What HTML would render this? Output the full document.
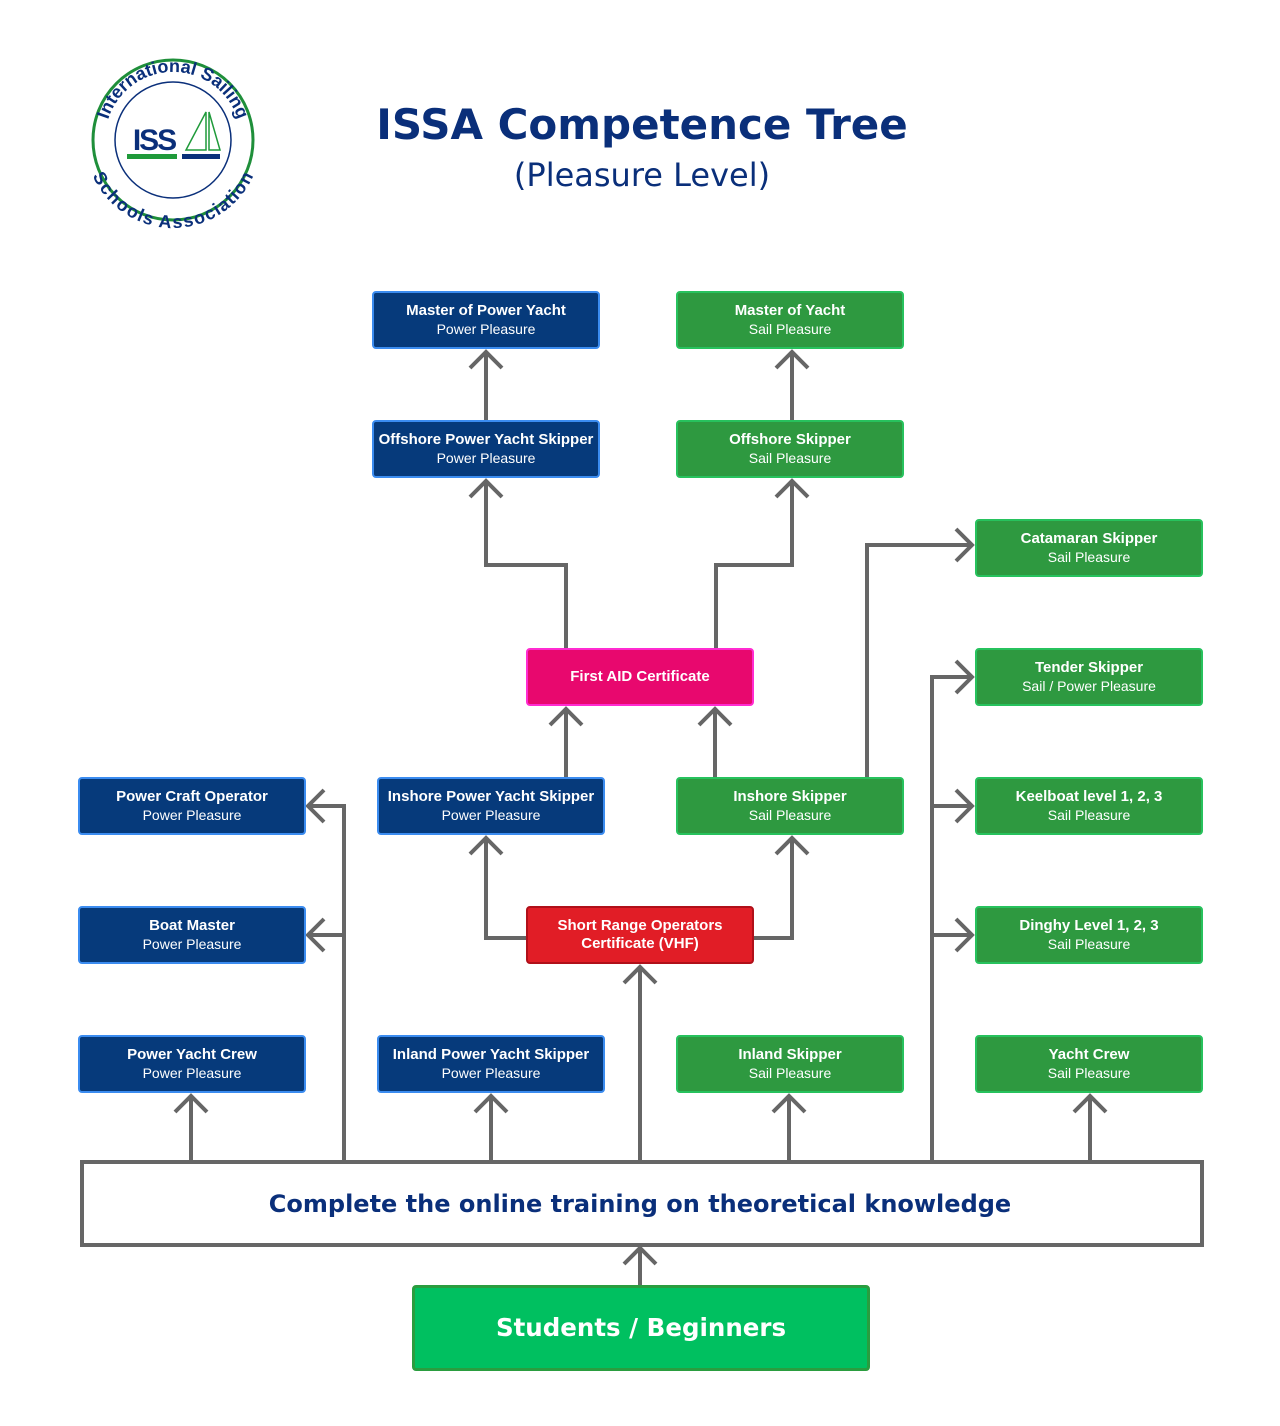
<!DOCTYPE html>
<html><head><meta charset="utf-8"><style>
body{margin:0;background:#fff;font-family:"Liberation Sans","DejaVu Sans",sans-serif}
#c{position:relative;width:1280px;height:1426px;overflow:hidden}
.b{position:absolute;box-sizing:border-box;width:228px;height:58px;border-radius:4px;color:#fff;text-align:center;display:flex;flex-direction:column;justify-content:center;line-height:18px}
.b b{font-size:15px}.b span{font-size:14px}
.bl{background:#063a7b;border:2px solid #3b8cf0}
.gr{background:#2e9940;border:2px solid #27c25d}
</style></head><body><div id="c">
<svg width="1280" height="1426" style="position:absolute;left:0;top:0">
<defs><path id="tp" d="M173,140 m-68,0 a68,68 0 1,1 136,0"/><path id="bp" d="M173,140 m-76,0 a76,76 0 0,0 152,0"/></defs>
<circle cx="173" cy="140" r="80" fill="#fff" stroke="#1f8f3a" stroke-width="3"/>
<circle cx="173" cy="140" r="58" fill="none" stroke="#0a2f7a" stroke-width="1.5"/>
<text font-size="18" font-weight="bold" fill="#0a2f7a" font-family="Liberation Sans"><textPath href="#tp" startOffset="50%" text-anchor="middle">International Sailing</textPath></text>
<text font-size="18" font-weight="bold" fill="#0a2f7a" font-family="Liberation Sans" dy="12"><textPath href="#bp" startOffset="50%" text-anchor="middle">Schools Association</textPath></text>
<text x="154" y="150" font-size="30" font-weight="bold" fill="#0a2f7a" text-anchor="middle" font-family="Liberation Sans" letter-spacing="-2">ISS</text>
<rect x="127" y="154" width="50" height="5" fill="#1f9a3a"/><rect x="182" y="154" width="38" height="5" fill="#0a2f7a"/>
<path d="M206,112 L186,150 L206,150 Z M209,112 L220,150 L209,150Z" fill="none" stroke="#1f9a3a" stroke-width="1.5"/>
<text x="642" y="139" font-size="42" font-weight="bold" fill="#0a2f7a" text-anchor="middle" font-family="DejaVu Sans">ISSA Competence Tree</text>
<text x="642" y="186" font-size="32" fill="#0a2f7a" text-anchor="middle" font-family="DejaVu Sans">(Pleasure Level)</text>
<rect x="82" y="1162" width="1120" height="83" fill="#fff" stroke="#666" stroke-width="4"/>
<text x="640" y="1212" font-size="24" font-weight="bold" fill="#0a2f7a" text-anchor="middle" font-family="DejaVu Sans">Complete the online training on theoretical knowledge</text>
<g fill="none" stroke="#666" stroke-width="4">
<path d="M486,421V352M792,421V352M486,481V565H566V649M792,481V565H716V649M566,778V709M715,778V709M867,778V545H972M527,938H486V838M753,938H792V838M640,1162V967M344,1162V806H308M344,935H308M932,1162V677H972M932,806H972M932,935H972M191,1162V1096M491,1162V1096M789,1162V1096M1090,1162V1096M640,1286V1248"/>
<path d="M470,368L486,352L502,368M776,368L792,352L808,368M470,497L486,481L502,497M776,497L792,481L808,497M550,725L566,709L582,725M699,725L715,709L731,725M956,529L972,545L956,561M470,854L486,838L502,854M776,854L792,838L808,854M624,983L640,967L656,983M324,790L308,806L324,822M324,919L308,935L324,951M956,661L972,677L956,693M956,790L972,806L956,822M956,919L972,935L956,951M175,1112L191,1096L207,1112M475,1112L491,1096L507,1112M773,1112L789,1096L805,1112M1074,1112L1090,1096L1106,1112M624,1264L640,1248L656,1264"/>
</g>
</svg>
<div class="b bl" style="left:372px;top:291px"><b>Master of Power Yacht</b><span>Power Pleasure</span></div>
<div class="b gr" style="left:676px;top:291px"><b>Master of Yacht</b><span>Sail Pleasure</span></div>
<div class="b bl" style="left:372px;top:420px"><b>Offshore Power Yacht Skipper</b><span>Power Pleasure</span></div>
<div class="b gr" style="left:676px;top:420px"><b>Offshore Skipper</b><span>Sail Pleasure</span></div>
<div class="b gr" style="left:975px;top:519px"><b>Catamaran Skipper</b><span>Sail Pleasure</span></div>
<div class="b" style="left:526px;top:648px;background:#e8086e;border:2px solid #ff2bd0"><b>First AID Certificate</b></div>
<div class="b gr" style="left:975px;top:648px"><b>Tender Skipper</b><span>Sail / Power Pleasure</span></div>
<div class="b bl" style="left:78px;top:777px"><b>Power Craft Operator</b><span>Power Pleasure</span></div>
<div class="b bl" style="left:377px;top:777px"><b>Inshore Power Yacht Skipper</b><span>Power Pleasure</span></div>
<div class="b gr" style="left:676px;top:777px"><b>Inshore Skipper</b><span>Sail Pleasure</span></div>
<div class="b gr" style="left:975px;top:777px"><b>Keelboat level 1, 2, 3</b><span>Sail Pleasure</span></div>
<div class="b bl" style="left:78px;top:906px"><b>Boat Master</b><span>Power Pleasure</span></div>
<div class="b" style="left:526px;top:906px;background:#e11d26;border:2px solid #b0101a"><b>Short Range Operators</b><b>Certificate (VHF)</b></div>
<div class="b gr" style="left:975px;top:906px"><b>Dinghy Level 1, 2, 3</b><span>Sail Pleasure</span></div>
<div class="b bl" style="left:78px;top:1035px"><b>Power Yacht Crew</b><span>Power Pleasure</span></div>
<div class="b bl" style="left:377px;top:1035px"><b>Inland Power Yacht Skipper</b><span>Power Pleasure</span></div>
<div class="b gr" style="left:676px;top:1035px"><b>Inland Skipper</b><span>Sail Pleasure</span></div>
<div class="b gr" style="left:975px;top:1035px"><b>Yacht Crew</b><span>Sail Pleasure</span></div>
<div class="b" style="left:412px;top:1285px;width:458px;height:86px;background:#00c060;border:3px solid #2a9d3f;font-size:24.5px;font-weight:bold;font-family:'DejaVu Sans',sans-serif">Students / Beginners</div>
</div></body></html>
